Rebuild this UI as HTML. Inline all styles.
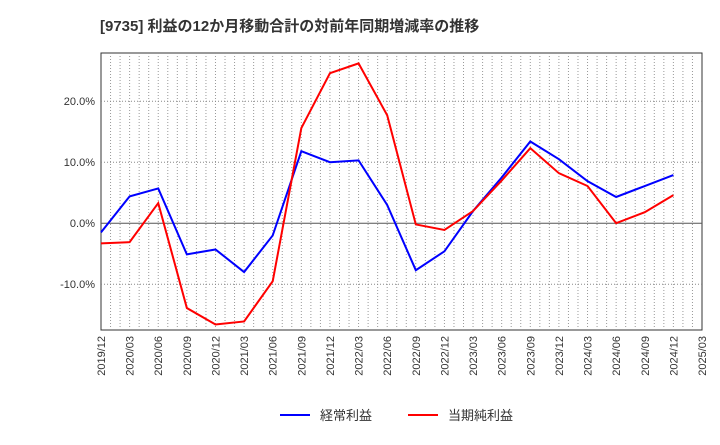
<!DOCTYPE html>
<html><head><meta charset="utf-8"><style>
body{margin:0;background:#fff;font-family:"Liberation Sans","Noto Sans CJK JP",sans-serif;}
</style></head><body>
<svg id="c" width="720" height="440" xmlns="http://www.w3.org/2000/svg">
<text x="100" y="31" font-size="15" font-weight="bold" fill="#333" font-family="Liberation Sans, Noto Sans CJK JP, sans-serif">[9735]  利益の12か月移動合計の対前年同期増減率の推移</text>
<rect x="101" y="53" width="601" height="277" fill="#fff" stroke="#333" stroke-width="1"/>
<g id="grid"></g><g id="axes"></g><g id="series"></g>
<g>
<line x1="280" y1="415" x2="310" y2="415" stroke="#0000ff" stroke-width="2"/>
<text x="320" y="420" font-size="13" fill="#333">経常利益</text>
<line x1="408" y1="415" x2="438" y2="415" stroke="#ff0000" stroke-width="2"/>
<text x="448" y="420" font-size="13" fill="#333">当期純利益</text>
</g>
</svg>
<script>
const categories=["2019/12","2020/03","2020/06","2020/09","2020/12","2021/03","2021/06","2021/09","2021/12","2022/03","2022/06","2022/09","2022/12","2023/03","2023/06","2023/09","2023/12","2024/03","2024/06","2024/09","2024/12","2025/03"];
const keijo=[-1.5,4.4,5.7,-5.1,-4.3,-8.0,-2.0,11.8,10.0,10.3,3.0,-7.7,-4.6,2.0,7.5,13.4,10.5,6.9,4.3,6.1,7.9];
const junri=[-3.3,-3.1,3.3,-13.9,-16.6,-16.1,-9.5,15.6,24.6,26.2,17.7,-0.2,-1.1,2.0,7.0,12.3,8.2,6.1,0.0,1.8,4.6];
const yTicks=[-10,0,10,20];
const yTickLabels=["-10.0%","0.0%","10.0%","20.0%"];
const X0=101,X1=702,Y0=53,Y1=330,YMAX=27.9,YMIN=-17.5;
const NS="http://www.w3.org/2000/svg";
function x(i){return X0+(X1-X0)*i/(categories.length-1);}
function y(v){return Y0+(YMAX-v)/(YMAX-YMIN)*(Y1-Y0);}
function mk(t,a,p){const e=document.createElementNS(NS,t);for(const k in a)e.setAttribute(k,a[k]);p.appendChild(e);return e;}
const grid=document.getElementById('grid'),axes=document.getElementById('axes'),ser=document.getElementById('series');
const nMonths=(categories.length-1)*3;
for(let m=1;m<nMonths;m++){
  const gx=x(m/3);
  const l=mk('line',{x1:gx,x2:gx,y1:Y0,y2:Y1,stroke:'#999','stroke-dasharray':'1,2'},grid);
  
  
}
categories.forEach((c,i)=>{
  const t=mk('text',{transform:`translate(${x(i)+4},${Y1+6}) rotate(-90)`,'text-anchor':'end','font-size':11,fill:'#333'},axes);
  t.textContent=c;
  
  
});
yTicks.forEach((v,i)=>{
  const l=mk('line',{x1:X0,x2:X1,y1:y(v),y2:y(v),stroke:v===0?'#555':'#888','stroke-dasharray':v===0?'':'1,2'},grid);
  
  
  const t=mk('text',{x:X0-6,y:y(v)+4,'text-anchor':'end','font-size':11,fill:'#333'},axes);
  t.textContent=yTickLabels[i];
  
  
});
function line(d,col,name){
  const p=mk('polyline',{points:d.map((v,i)=>x(i)+','+y(v)).join(' '),fill:'none',stroke:col,'stroke-width':2},ser);
  
  
}
line(keijo,'#0000ff','keijo-line');
line(junri,'#ff0000','junri-line');
</script>
</body></html>
